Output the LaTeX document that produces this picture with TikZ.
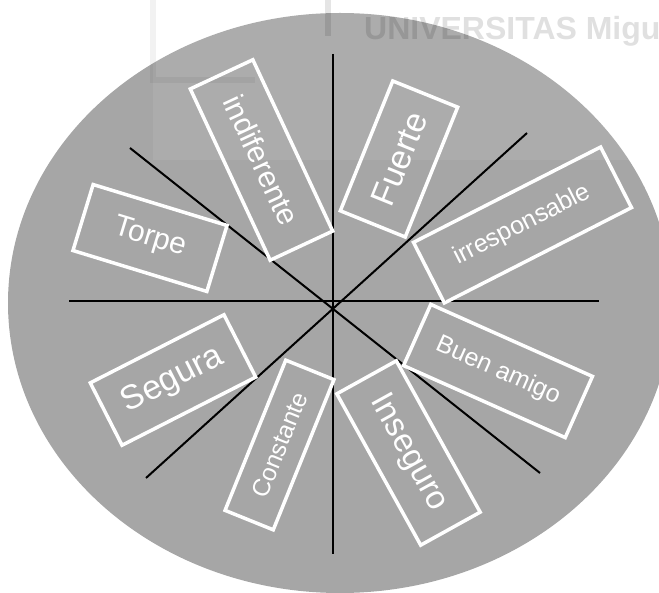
\documentclass[tikz,border=0pt]{standalone}
\usepackage{fontspec}
\setmainfont{Liberation Sans}
\usepackage{xcolor}
\usetikzlibrary{positioning}

\begin{document}
\begin{tikzpicture}[x=1pt,y=-1pt,
  every node/.style={inner sep=0pt,text=white},
  lbl/.style={draw=white,line width=3.5pt,rectangle,font=\fontsize{#1}{#1}\selectfont},
  spoke/.style={line width=2pt,black},
  faint/.style={line width=6pt,black,draw opacity=0.05}]
\useasboundingbox (0,0) rectangle (659,593);
\fill[black!35] (340,303) ellipse (332pt and 290pt);
% faded logo in the background
\fill[white,fill opacity=0.07] (153,0) rectangle (659,160);
\draw[faint] (153,0)--(153,80)--(255,80);
\draw[faint,draw opacity=0.1] (328,0)--(328,36);
\node[anchor=base west,text=black,text opacity=0.12,font=\bfseries\fontsize{32}{32}\selectfont] (wm) at (364,40) {UNIVERSITAS Miguel};
% spokes
\coordinate (n) at (333,54);
\coordinate (s) at (333,554);
\coordinate (w) at (69,301);
\coordinate (e) at (599,301);
\coordinate (nw) at (130,148);
\coordinate (se) at (540,473);
\coordinate (ne) at (527,133);
\coordinate (sw) at (146,478);
\draw[spoke] (n)--(s);
\draw[spoke] (w)--(e);
\draw[spoke] (nw)--(se);
\draw[spoke] (ne)--(sw);
% labels
\node[lbl=30,minimum width=189pt,minimum height=69pt,rotate=-65] (indif) at (261.5,160) {indiferente};
\node[lbl=34,minimum width=140pt,minimum height=70pt,rotate=68] (fuerte) at (399,159) {Fuerte};
\node[lbl=25,minimum width=210pt,minimum height=68pt,rotate=27] (irresp) at (522.5,225) {irresponsable};
\node[lbl=30,minimum width=140pt,minimum height=69pt,rotate=-17] (torpe) at (150,238) {Torpe};
\node[lbl=34,minimum width=150pt,minimum height=70pt,rotate=27] (segura) at (173,380) {Segura};
\node[lbl=24.5,minimum width=162pt,minimum height=52pt,rotate=68] (const) at (279.5,445) {Constante};
\node[lbl=33,minimum width=173pt,minimum height=68pt,rotate=-61] (inseg) at (408.5,453) {Inseguro};
\node[lbl=25,minimum width=177pt,minimum height=67pt,rotate=-24] (amigo) at (498,371) {Buen amigo};
\end{tikzpicture}
\end{document}
